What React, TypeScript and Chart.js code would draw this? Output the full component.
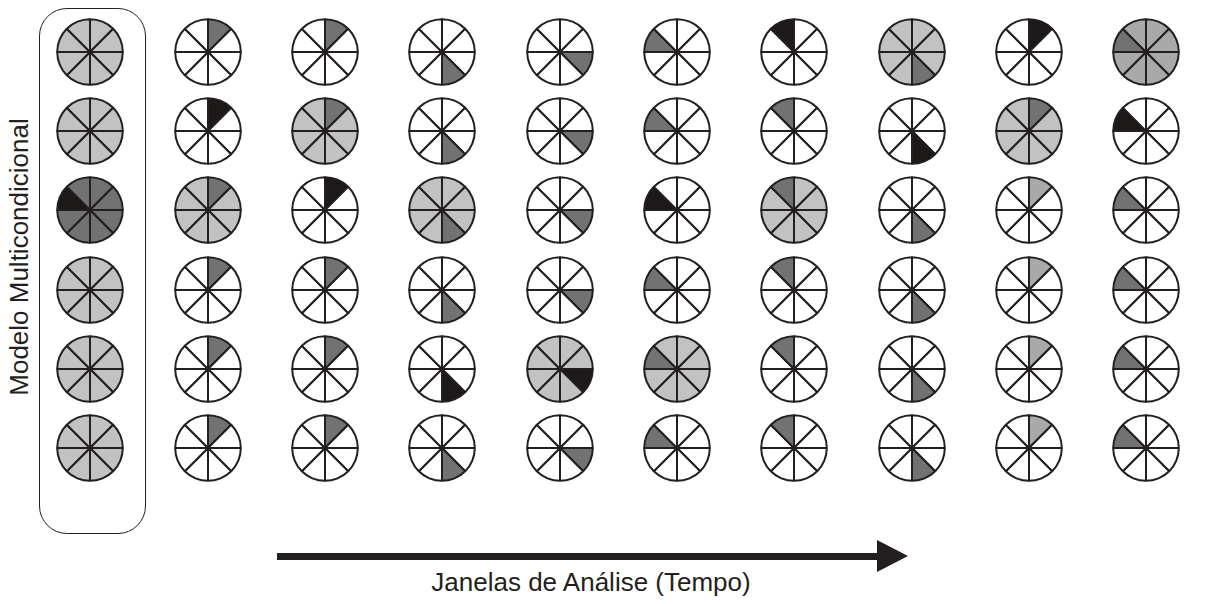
import React, { useEffect, useRef } from "react";
import { Chart, registerables } from "chart.js";

Chart.register(...registerables);

// Categories: analysis windows (columns) and model conditions (rows)
const WINDOWS = ["W1", "W2", "W3", "W4", "W5", "W6", "W7", "W8", "W9", "W10"];
const CONDITIONS = ["C1", "C2", "C3", "C4", "C5", "C6"];
// Eight equal slices per pie
const SLICE_LABELS = ["S1", "S2", "S3", "S4", "S5", "S6", "S7", "S8"];
const SLICE_VALUES = [1, 1, 1, 1, 1, 1, 1, 1];

// Slice state codes, clockwise from 12 o'clock
// W = white, L = light gray, M = medium gray, D = dark gray, K = black
const ROW_1 = ["LLLLLLLL", "DWWWWWWW", "DWWWWWWW", "WWWDWWWW", "WWDWWWWW", "WWWWWWDW", "WWWWWWWK", "LLLDLLLL", "KWWWWWWW", "MMMMMMDM"];
const ROW_2 = ["LLLLLLLL", "KWWWWWWW", "DLLLLLLL", "WWWDWWWW", "WWDWWWWW", "WWWWWWDW", "WWWWWWWD", "WWWKWWWW", "DLLLLLLL", "WWWWWWKW"];
const ROW_3 = ["DDDDDDKD", "DLLLLLLL", "KWWWWWWW", "LLLDLLLL", "WWDWWWWW", "WWWWWWKW", "LLLLLLLD", "WWWDWWWW", "MWWWWWWW", "WWWWWWDW"];
const ROW_4 = ["LLLLLLLL", "DWWWWWWW", "DWWWWWWW", "WWWDWWWW", "WWDWWWWW", "WWWWWWDW", "WWWWWWWD", "WWWDWWWW", "MWWWWWWW", "WWWWWWDW"];
const ROW_5 = ["LLLLLLLL", "DWWWWWWW", "DWWWWWWW", "WWWKWWWW", "LLKLLLLL", "LLLLLLDL", "WWWWWWWD", "WWWDWWWW", "MWWWWWWW", "WWWWWWDW"];
const ROW_6 = ["LLLLLLLL", "DWWWWWWW", "DWWWWWWW", "WWWDWWWW", "WWDWWWWW", "WWWWWWDW", "WWWWWWWD", "WWWDWWWW", "MWWWWWWW", "WWWWWWDW"];

const ROWS = [ROW_1, ROW_2, ROW_3, ROW_4, ROW_5, ROW_6];

const X_TITLE = "Janelas de Análise (Tempo)";
const Y_TITLE = "Modelo Multicondicional";

const PALETTE: Record<string, string> = {
  W: "#ffffff",
  L: "#c2c2c2",
  M: "#a9a9a9",
  D: "#727272",
  K: "#1d1919",
};
const INK = "#231f20";
const FONT = '"Liberation Sans", Arial, Helvetica, sans-serif';

const CELL_W = 117.3;
const CELL_H = 79.2;
const PIE_SIZE = 72;

export default function App() {
  const canvasRefs = useRef<(HTMLCanvasElement | null)[]>([]);

  useEffect(() => {
    const charts: Chart[] = [];
    ROWS.forEach((row, r) => {
      row.forEach((codes, c) => {
        const canvas = canvasRefs.current[r * WINDOWS.length + c];
        if (!canvas) return;
        charts.push(
          new Chart(canvas, {
            type: "pie",
            data: {
              labels: SLICE_LABELS,
              datasets: [
                {
                  data: SLICE_VALUES,
                  backgroundColor: codes.split("").map((k) => PALETTE[k]),
                  borderColor: INK,
                  borderWidth: 2,
                },
              ],
            },
            options: {
              responsive: false,
              animation: false,
              events: [],
              radius: 32.8,
              layout: { padding: 0 },
              plugins: {
                legend: { display: false },
                tooltip: { enabled: false },
                title: { display: false },
              },
            } as any,
          })
        );
      });
    });
    return () => charts.forEach((ch) => ch.destroy());
  }, []);

  return (
    <div
      style={{
        position: "fixed",
        left: 0,
        top: 0,
        width: 1222,
        height: 604,
        background: "#ffffff",
        overflow: "hidden",
      }}
    >
      {/* rounded frame around first column */}
      <div
        style={{
          position: "absolute",
          left: 39,
          top: 8,
          width: 107,
          height: 526,
          border: `1.5px solid ${INK}`,
          borderRadius: 28,
          boxSizing: "border-box",
        }}
      />
      {/* grid of pies */}
      <div
        style={{
          position: "absolute",
          left: 31.85,
          top: 12.4,
          display: "grid",
          gridTemplateColumns: `repeat(${WINDOWS.length}, ${CELL_W}px)`,
          gridTemplateRows: `repeat(${CONDITIONS.length}, ${CELL_H}px)`,
        }}
      >
        {ROWS.map((row, r) =>
          row.map((_, c) => (
            <div
              key={`${r}-${c}`}
              style={{ display: "flex", alignItems: "center", justifyContent: "center" }}
            >
              <canvas
                ref={(el) => {
                  canvasRefs.current[r * WINDOWS.length + c] = el;
                }}
                width={PIE_SIZE}
                height={PIE_SIZE}
                style={{ width: PIE_SIZE, height: PIE_SIZE, display: "block" }}
              />
            </div>
          ))
        )}
      </div>
      {/* time arrow */}
      <div
        style={{
          position: "absolute",
          left: 277,
          top: 553,
          width: 602,
          height: 7,
          background: INK,
        }}
      />
      <div
        style={{
          position: "absolute",
          left: 877,
          top: 540,
          width: 0,
          height: 0,
          borderTop: "16.5px solid transparent",
          borderBottom: "16.5px solid transparent",
          borderLeft: `31px solid ${INK}`,
        }}
      />
      {/* axis titles */}
      <div
        style={{
          position: "absolute",
          left: 591,
          top: 582,
          transform: "translate(-50%, -50%)",
          whiteSpace: "nowrap",
          fontFamily: FONT,
          fontSize: 26,
          color: INK,
          lineHeight: 1,
        }}
      >
        {X_TITLE}
      </div>
      <div
        style={{
          position: "absolute",
          left: 19,
          top: 257,
          transform: "translate(-50%, -50%) rotate(-90deg)",
          whiteSpace: "nowrap",
          fontFamily: FONT,
          fontSize: 26,
          color: INK,
          lineHeight: 1,
        }}
      >
        {Y_TITLE}
      </div>
    </div>
  );
}
